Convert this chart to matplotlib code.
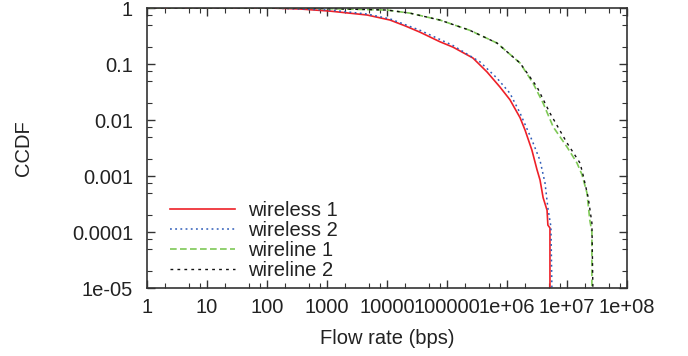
import matplotlib
matplotlib.use('Agg')
import matplotlib.pyplot as plt
from matplotlib.ticker import LogLocator, FixedLocator, FixedFormatter, NullFormatter

# flow rate (bps) and CCDF
wl1_x = [1, 112, 355, 1120, 4650, 11200, 20000, 35500, 76000, 126000, 270000,
         465000, 760000, 1.12e6, 1.65e6, 2.0e6, 2.6e6, 3.16e6, 3.55e6, 4.0e6,
         4.65e6, 4.8e6, 5.2e6, 5.2e6]
wl1_y = [1, 1.0, 0.96, 0.88, 0.75, 0.61, 0.48, 0.37, 0.25, 0.20, 0.128,
         0.072, 0.039, 0.023, 0.011, 0.0066, 0.0029, 0.0013, 0.00085, 0.00041,
         0.000245, 0.000133, 0.000118, 1e-5]

wl2_x = [1, 112, 1120, 4650, 11200, 35500, 126000, 355000, 680000, 1.12e6,
         1.65e6, 2.6e6, 3.55e6, 4.3e6, 4.8e6, 5.4e6, 5.6e6]
wl2_y = [1, 1.0, 0.92, 0.78, 0.64, 0.40, 0.214, 0.109, 0.056, 0.030,
         0.0133, 0.0044, 0.0019, 0.00075, 0.00027, 0.000123, 1e-5]

wr1_x = [1, 355, 10000, 24000, 76000, 240000, 680000, 1.65e6, 2.7e6, 4.0e6,
         5.9e6, 1.0e7, 1.47e7, 1.78e7, 2.15e7, 2.4e7, 2.6e7, 2.6e7]
wr1_y = [1, 1.0, 0.92, 0.81, 0.61, 0.40, 0.237, 0.104, 0.046, 0.020,
         0.0075, 0.0033, 0.0017, 0.00105, 0.0005, 0.000163, 0.0001, 1e-5]

wr2_x = [1, 355, 10000, 24000, 76000, 240000, 680000, 1.65e6, 3.16e6, 5.2e6,
         1.0e7, 1.65e7, 1.85e7, 2.25e7, 2.6e7, 2.7e7]
wr2_y = [1, 1.0, 0.92, 0.81, 0.61, 0.40, 0.237, 0.104, 0.039, 0.0133,
         0.0039, 0.0017, 0.00105, 0.00042, 0.000145, 1e-5]

x_ticks = [1, 10, 100, 1000, 1e4, 1e5, 1e6, 1e7, 1e8]
x_labels = ['1', '10', '100', '1000', '10000', '100000', '1e+06', '1e+07', '1e+08']
y_ticks = [1e-5, 1e-4, 1e-3, 1e-2, 0.1, 1]
y_labels = ['1e-05', '0.0001', '0.001', '0.01', '0.1', '1']

fs = 14.5
plt.rcParams['font.family'] = ['Liberation Sans', 'DejaVu Sans']
plt.rcParams['font.size'] = fs
txt = '#222222'

fig = plt.figure(figsize=(6.88, 3.56), dpi=100)
ax = fig.add_axes([147 / 688, 1 - 288 / 356, 480 / 688, 280 / 356])

ax.plot(wl1_x, wl1_y, color='#ee2028', lw=1.2, label='wireless 1')
ax.plot(wl2_x, wl2_y, color='#2f5cb8', lw=1.1, dashes=(1.2, 2.2), label='wireless 2')
ax.plot(wr1_x, wr1_y, color='#7ec856', lw=1.2, dashes=(4, 2), label='wireline 1')
ax.plot(wr2_x, wr2_y, color='#111111', lw=1.0, dashes=(2, 3), label='wireline 2')

ax.set_xscale('log')
ax.set_yscale('log')
ax.set_xlim(1, 1e8)
ax.set_ylim(1e-5, 1)

ax.xaxis.set_major_locator(FixedLocator(x_ticks))
ax.xaxis.set_major_formatter(FixedFormatter(x_labels))
ax.yaxis.set_major_locator(FixedLocator(y_ticks))
ax.yaxis.set_major_formatter(FixedFormatter(y_labels))
ax.xaxis.set_minor_locator(LogLocator(base=10, subs=(2, 5, 7.5), numticks=20))
ax.yaxis.set_minor_locator(LogLocator(base=10, subs=(2, 5, 7.5), numticks=20))
ax.xaxis.set_minor_formatter(NullFormatter())
ax.yaxis.set_minor_formatter(NullFormatter())

ax.tick_params(which='both', direction='in', top=True, right=True, colors='#333333',
               labelcolor=txt, labelsize=fs)
ax.tick_params(which='major', length=6, width=1)
ax.tick_params(which='minor', length=3.5, width=0.8)
ax.tick_params(axis='x', which='major', pad=7)
ax.tick_params(axis='y', which='major', pad=10)
for s in ax.spines.values():
    s.set_color('#333333')
    s.set_linewidth(1.2)

ax.set_xlabel('Flow rate (bps)', color=txt, fontsize=fs, labelpad=9)
ax.set_ylabel('CCDF', color=txt, fontsize=fs)
ax.yaxis.set_label_coords(-0.238, 0.5)

leg = ax.legend(loc='lower left', bbox_to_anchor=(0.048, 0.03), frameon=False,
                handlelength=3.25, handletextpad=0.6, labelspacing=0.05,
                borderpad=0, borderaxespad=0, fontsize=fs)
for t in leg.get_texts():
    t.set_color(txt)

fig.savefig('out.png', dpi=100)
